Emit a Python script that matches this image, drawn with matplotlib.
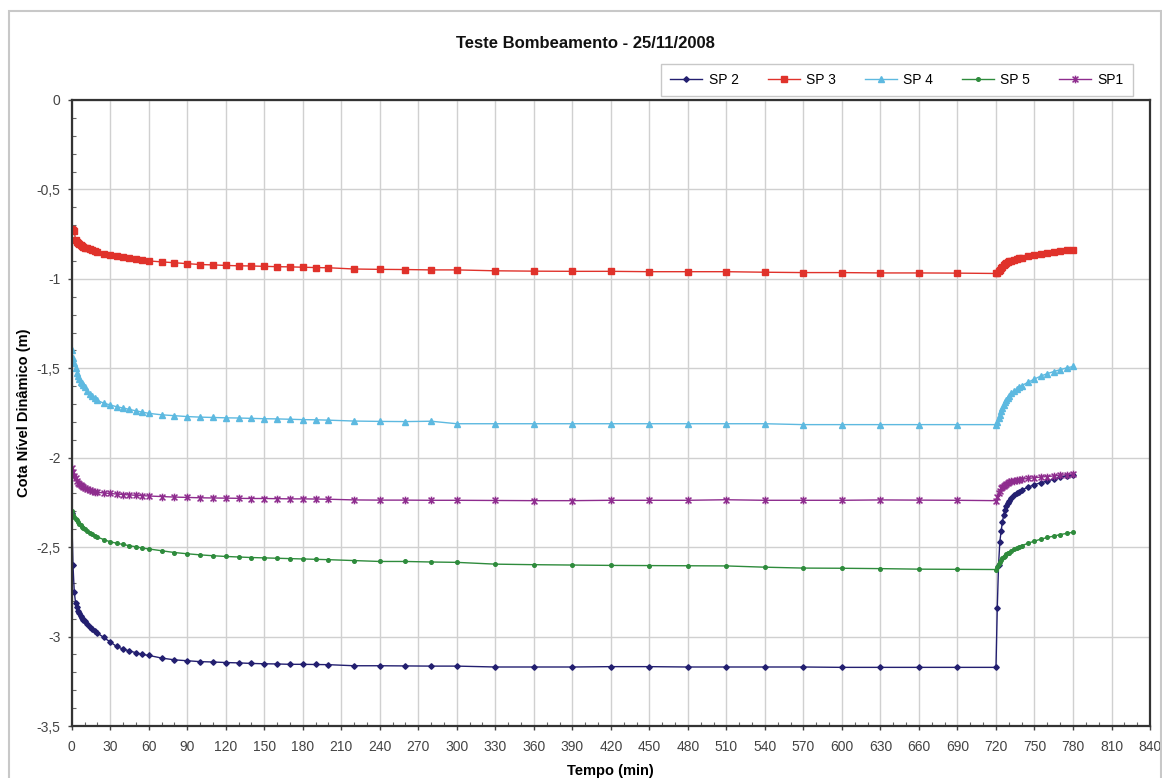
import matplotlib
matplotlib.use("Agg")
import matplotlib.pyplot as plt
from matplotlib.path import Path
from matplotlib.patches import Rectangle
from matplotlib.ticker import MultipleLocator, FuncFormatter

plt.rcParams['font.family'] = ['Liberation Sans', 'DejaVu Sans']

# Measurement times (min): pumping phase and recovery phase
t_pump = [0, 1, 2, 3, 4, 5, 6, 7, 8, 9, 10, 12, 14, 16, 18, 20, 25, 30, 35, 40,
          45, 50, 55, 60, 70, 80, 90, 100, 110, 120, 130, 140, 150, 160, 170,
          180, 190, 200, 220, 240, 260, 280, 300, 330, 360, 390, 420, 450, 480,
          510, 540, 570, 600, 630, 660, 690, 720]
t_rec = [721, 722, 723, 724, 725, 726, 727, 728, 729, 730, 732, 734, 736, 738,
         740, 745, 750, 755, 760, 765, 770, 775, 780]

# Dynamic water level (m) per piezometer
sp2_pump = [-2.31, -2.60, -2.75, -2.81, -2.835, -2.855, -2.87, -2.885, -2.895,
            -2.905, -2.915, -2.93, -2.945, -2.96, -2.97, -2.98, -3.005, -3.03,
            -3.055, -3.07, -3.08, -3.09, -3.10, -3.105, -3.12, -3.13, -3.135,
            -3.14, -3.142, -3.145, -3.147, -3.15, -3.152, -3.153, -3.155,
            -3.155, -3.156, -3.157, -3.163, -3.163, -3.164, -3.165, -3.165,
            -3.17, -3.17, -3.17, -3.168, -3.168, -3.17, -3.17, -3.17, -3.17,
            -3.172, -3.172, -3.172, -3.172, -3.172]
sp2_rec = [-2.84, -2.60, -2.47, -2.41, -2.36, -2.32, -2.29, -2.27, -2.255,
           -2.24, -2.225, -2.21, -2.20, -2.19, -2.18, -2.165, -2.15, -2.14,
           -2.13, -2.12, -2.11, -2.10, -2.095]

sp3_pump = [-0.72, -0.725, -0.73, -0.785, -0.795, -0.80, -0.805, -0.81, -0.815,
            -0.82, -0.825, -0.83, -0.835, -0.84, -0.845, -0.85, -0.86, -0.865,
            -0.87, -0.878, -0.885, -0.89, -0.895, -0.90, -0.905, -0.91, -0.915,
            -0.92, -0.922, -0.925, -0.927, -0.928, -0.93, -0.932, -0.933,
            -0.935, -0.937, -0.938, -0.945, -0.947, -0.948, -0.95, -0.95,
            -0.955, -0.957, -0.958, -0.958, -0.96, -0.96, -0.96, -0.963,
            -0.965, -0.965, -0.967, -0.967, -0.968, -0.97]
sp3_rec = [-0.965, -0.958, -0.95, -0.942, -0.933, -0.925, -0.918, -0.912,
           -0.907, -0.903, -0.898, -0.893, -0.889, -0.885, -0.882, -0.875,
           -0.868, -0.861, -0.855, -0.85, -0.845, -0.84, -0.836]

sp4_pump = [-1.40, -1.44, -1.47, -1.50, -1.525, -1.545, -1.56, -1.575, -1.585,
            -1.595, -1.605, -1.625, -1.645, -1.655, -1.668, -1.68, -1.695,
            -1.705, -1.715, -1.722, -1.73, -1.738, -1.745, -1.752, -1.76,
            -1.765, -1.77, -1.773, -1.775, -1.777, -1.778, -1.78, -1.782,
            -1.783, -1.785, -1.787, -1.788, -1.79, -1.795, -1.797, -1.798,
            -1.796, -1.81, -1.81, -1.81, -1.81, -1.81, -1.81, -1.81, -1.81,
            -1.81, -1.815, -1.815, -1.815, -1.815, -1.815, -1.815]
sp4_rec = [-1.80, -1.78, -1.76, -1.74, -1.72, -1.705, -1.69, -1.677, -1.665,
           -1.655, -1.64, -1.627, -1.615, -1.605, -1.597, -1.578, -1.56,
           -1.543, -1.53, -1.518, -1.508, -1.498, -1.49]

sp5_pump = [-2.30, -2.32, -2.33, -2.34, -2.35, -2.36, -2.368, -2.375, -2.385,
            -2.392, -2.40, -2.41, -2.42, -2.428, -2.436, -2.443, -2.458, -2.47,
            -2.478, -2.485, -2.492, -2.498, -2.505, -2.51, -2.52, -2.53,
            -2.537, -2.543, -2.548, -2.552, -2.555, -2.558, -2.56, -2.562,
            -2.564, -2.566, -2.568, -2.57, -2.575, -2.58, -2.58, -2.583,
            -2.585, -2.595, -2.598, -2.60, -2.602, -2.603, -2.604, -2.605,
            -2.612, -2.617, -2.618, -2.62, -2.623, -2.624, -2.625]
sp5_rec = [-2.61, -2.595, -2.582, -2.572, -2.563, -2.555, -2.548, -2.541,
           -2.535, -2.53, -2.52, -2.512, -2.505, -2.498, -2.492, -2.478,
           -2.466, -2.455, -2.446, -2.438, -2.43, -2.423, -2.417]

sp1_pump = [-2.06, -2.08, -2.10, -2.115, -2.13, -2.14, -2.148, -2.155, -2.16,
            -2.165, -2.17, -2.175, -2.18, -2.185, -2.19, -2.193, -2.197, -2.20,
            -2.203, -2.206, -2.208, -2.21, -2.212, -2.214, -2.217, -2.22,
            -2.222, -2.224, -2.225, -2.226, -2.227, -2.228, -2.228, -2.229,
            -2.23, -2.23, -2.231, -2.232, -2.236, -2.237, -2.237, -2.238,
            -2.238, -2.239, -2.24, -2.24, -2.238, -2.238, -2.238, -2.235,
            -2.238, -2.238, -2.238, -2.236, -2.237, -2.238, -2.24]
sp1_rec = [-2.22, -2.20, -2.185, -2.172, -2.163, -2.156, -2.15, -2.145, -2.141,
           -2.137, -2.132, -2.128, -2.125, -2.122, -2.12, -2.116, -2.112,
           -2.108, -2.105, -2.102, -2.098, -2.095, -2.092]

series_names = ['SP 2', 'SP 3', 'SP 4', 'SP 5', 'SP1']
y_ticks = [0, -0.5, -1, -1.5, -2, -2.5, -3, -3.5]
x_ticks = list(range(0, 841, 30))

# six-armed asterisk marker (X plus vertical bar)
star = Path([(-1, -1), (1, 1), (-1, 1), (1, -1), (0, -1.3), (0, 1.3)],
            [Path.MOVETO, Path.LINETO, Path.MOVETO, Path.LINETO,
             Path.MOVETO, Path.LINETO])

styles = [
    dict(color='#231F70', marker='D', ms=2.8),
    dict(color='#E0322B', marker='s', ms=4),
    dict(color='#5DB9E0', marker='^', ms=4),
    dict(color='#2E8B3C', marker='o', ms=2.6),
    dict(color='#8E2C8E', marker=star, ms=5.5, mew=1.1),
]

fig = plt.figure(figsize=(11.62, 7.78), dpi=100)
ax = fig.add_axes([0.0617, 0.0668, 0.9280, 0.8047])

pumps = [sp2_pump, sp3_pump, sp4_pump, sp5_pump, sp1_pump]
recs = [sp2_rec, sp3_rec, sp4_rec, sp5_rec, sp1_rec]
for name, p, r, st in zip(series_names, pumps, recs, styles):
    ax.plot(t_pump + t_rec, p + r, label=name, lw=1.0, **st)

ax.set_xlim(0, 840)
ax.set_ylim(-3.5, 0)
ax.set_xticks(x_ticks)
ax.set_yticks(y_ticks)
ax.xaxis.set_minor_locator(MultipleLocator(10))
ax.yaxis.set_minor_locator(MultipleLocator(0.1))
ax.yaxis.set_major_formatter(FuncFormatter(lambda v, _: f'{v:g}'.replace('.', ',')))
ax.tick_params(which='major', direction='out', length=3, width=1,
               color='#444444', labelsize=10, labelcolor='#444444')
ax.tick_params(axis='x', which='major', pad=7)
ax.tick_params(axis='y', which='major', pad=5)
ax.tick_params(which='minor', direction='in', length=3, width=0.8, color='#666666')
ax.grid(True, which='major', color='#D0D0D0', lw=1)
ax.set_axisbelow(True)
for sp in ax.spines.values():
    sp.set_color('#333333')
    sp.set_linewidth(1.6)

ax.set_xlabel('Tempo (min)', fontsize=10.5, fontweight='bold', labelpad=7)
ax.set_ylabel('Cota Nível Dinâmico (m)', fontsize=10.5, fontweight='bold', labelpad=4)
fig.text(0.504, 0.944, 'Teste Bombeamento - 25/11/2008', ha='center', va='center',
         fontsize=12, fontweight='bold', color='#111111')

leg = ax.legend(loc='lower right', bbox_to_anchor=(0.984, 1.006), ncol=5,
                frameon=True, fancybox=False, fontsize=10, handlelength=2.3,
                columnspacing=2.1, borderpad=0.65, handletextpad=0.45,
                borderaxespad=0)
leg.get_frame().set_edgecolor('#BBBBBB')
leg.get_frame().set_linewidth(1)

fig.patches.append(Rectangle((0.0077, -0.05), 0.9915, 1.036, transform=fig.transFigure,
                             fill=False, edgecolor='#C8C8C8', lw=1.5))

fig.savefig('out.png', dpi=100)
